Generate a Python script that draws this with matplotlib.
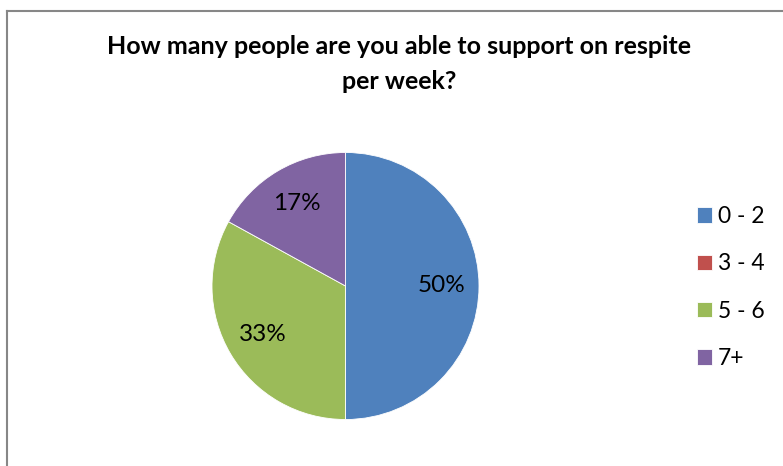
import matplotlib
matplotlib.use("Agg")
import matplotlib.pyplot as plt
from matplotlib.lines import Line2D

categories = ["0 - 2", "3 - 4", "5 - 6", "7+"]
values = [50, 0, 33, 17]
colors = ["#4F81BD", "#C0504D", "#9BBB59", "#8064A2"]
title = "How many people are you able to support on respite\nper week?"

W, H = 783, 466
fig = plt.figure(figsize=(W / 100, H / 100), dpi=100)
plt.rcParams['font.family'] = ['Lato', 'DejaVu Sans']

# frame
fig.add_artist(Line2D([6.5 / W, 6.5 / W], [0, 1 - 10.5 / H], transform=fig.transFigure,
                      color="#878787", lw=1.5))
fig.add_artist(Line2D([6.5 / W, 1], [1 - 10.5 / H, 1 - 10.5 / H], transform=fig.transFigure,
                      color="#878787", lw=1.5))

cx, cy, r = 345.5, 286, 133.5
ax = fig.add_axes([(cx - r) / W, (H - cy - r) / H, 2 * r / W, 2 * r / H])


def fmt(p):
    return "" if p < 0.5 else f"{p:.0f}%"


wedges, texts, autotexts = ax.pie(values, colors=colors, startangle=90, counterclock=False,
                                  autopct=fmt, pctdistance=0.72, radius=1,
                                  wedgeprops=dict(edgecolor="white", linewidth=0.6),
                                  textprops=dict(fontsize=17.5, color="black"))
ax.set_xlim(-1, 1)
ax.set_ylim(-1, 1)
ax.set_aspect("auto")
ax.axis("off")

fig.text(399 / W, 1 - 35 / H, title, ha="center", va="top", fontsize=18,
         fontweight="bold", linespacing=1.62)

leg = fig.legend(wedges, categories, loc="upper left", bbox_to_anchor=(697 / W, 1 - 206 / H),
                 frameon=False, fontsize=16.5, handlelength=0.65, handleheight=0.65,
                 handletextpad=0.25, labelspacing=1.15, borderaxespad=0, borderpad=0)

fig.savefig("out.png", dpi=100)
